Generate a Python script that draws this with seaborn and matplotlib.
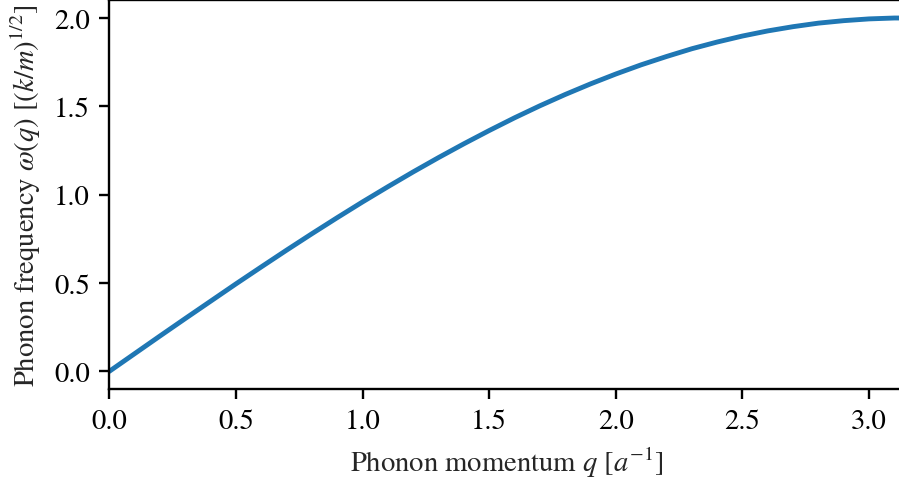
import matplotlib
matplotlib.use("Agg")
import matplotlib.pyplot as plt
import numpy as np
import pandas as pd
import seaborn as sns

# Dispersion of a monatomic chain, sampled along the first Brillouin zone
momentum = [0.0, 0.1, 0.2, 0.3, 0.4, 0.5, 0.6, 0.7, 0.8, 0.9,
            1.0, 1.1, 1.2, 1.3, 1.4, 1.5, 1.6, 1.7, 1.8, 1.9,
            2.0, 2.1, 2.2, 2.3, 2.4, 2.5, 2.6, 2.7, 2.8, 2.9,
            3.0, 3.1, 3.1416]
frequency = [0.000, 0.100, 0.200, 0.299, 0.397, 0.495, 0.591, 0.686, 0.779, 0.870,
             0.959, 1.045, 1.129, 1.210, 1.288, 1.363, 1.435, 1.503, 1.567, 1.627,
             1.683, 1.735, 1.782, 1.826, 1.864, 1.898, 1.927, 1.951, 1.971, 1.985,
             1.995, 2.000, 2.000]
x_ticks = [0.0, 0.5, 1.0, 1.5, 2.0, 2.5, 3.0]
y_ticks = [0.0, 0.5, 1.0, 1.5, 2.0]

sns.set_style("ticks")
plt.rcParams["font.family"] = ["STIXGeneral", "DejaVu Serif"]
plt.rcParams["mathtext.fontset"] = "stix"
plt.rcParams["font.size"] = 10.3
plt.rcParams["axes.linewidth"] = 0.85
plt.rcParams["xtick.major.width"] = 0.85
plt.rcParams["ytick.major.width"] = 0.85
plt.rcParams["xtick.major.size"] = 3.5
plt.rcParams["ytick.major.size"] = 3.5
plt.rcParams["axes.edgecolor"] = "black"
plt.rcParams["xtick.color"] = "black"
plt.rcParams["ytick.color"] = "black"

df = pd.DataFrame({"q": momentum, "omega": frequency})

fig = plt.figure(figsize=(4.495, 2.405), dpi=200)
ax = fig.add_axes([0.1216, 0.1892, 0.885, 0.808])
sns.lineplot(data=df, x="q", y="omega", ax=ax, color="#1f77b4", linewidth=1.75)

ax.set_xlim(0, np.pi)
ax.set_ylim(-0.1, 2.1)
ax.set_xticks(x_ticks)
ax.set_yticks(y_ticks)
ax.set_xticklabels([f"{t:.1f}" for t in x_ticks])
ax.set_yticklabels([f"{t:.1f}" for t in y_ticks])
ax.set_xlabel(r"Phonon momentum $q$ $[a^{-1}]$")
ax.set_ylabel(r"Phonon frequency $\omega(q)$ $[(k/m)^{1/2}]$")
for s in ax.spines.values():
    s.set_color("black")

fig.savefig("out.png", dpi=200)
